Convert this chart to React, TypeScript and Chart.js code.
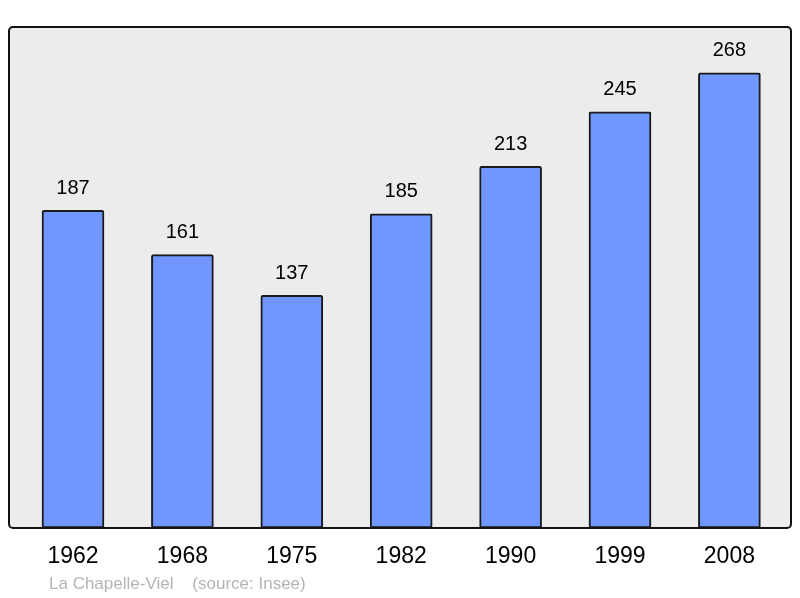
import { useEffect, useRef } from "react";
import { Chart, registerables, type Plugin } from "chart.js";

Chart.register(...registerables);

const years = ["1962", "1968", "1975", "1982", "1990", "1999", "2008"];
const population = [187, 161, 137, 185, 213, 245, 268];
const caption = "La Chapelle-Viel    (source: Insee)";

const FONT = "'Liberation Sans', Arial, sans-serif";
const FRAME_LEFT = 9;
const FRAME_RIGHT = 791;

// gray frame around the plot, a bit wider than the bar area
const framePlugin: Plugin<"bar"> = {
  id: "frame",
  beforeDatasetsDraw(chart) {
    const { ctx, chartArea } = chart;
    ctx.save();
    ctx.beginPath();
    ctx.roundRect(FRAME_LEFT, chartArea.top, FRAME_RIGHT - FRAME_LEFT, chartArea.bottom - chartArea.top, 4);
    ctx.fillStyle = "#ececec";
    ctx.fill();
    ctx.restore();
  },
  afterDatasetsDraw(chart) {
    const { ctx, chartArea } = chart;
    ctx.save();
    ctx.beginPath();
    ctx.roundRect(FRAME_LEFT, chartArea.top, FRAME_RIGHT - FRAME_LEFT, chartArea.bottom - chartArea.top, 4);
    ctx.lineWidth = 2;
    ctx.strokeStyle = "#111";
    ctx.stroke();

    const meta = chart.getDatasetMeta(0);
    ctx.fillStyle = "#000";
    ctx.textAlign = "center";
    ctx.textBaseline = "middle";
    meta.data.forEach((bar, i) => {
      ctx.font = `20px ${FONT}`;
      ctx.fillText(String(population[i]), bar.x, bar.y - 22);
      ctx.font = `23px ${FONT}`;
      ctx.fillText(years[i], bar.x, chartArea.bottom + 29);
    });

    ctx.textAlign = "left";
    ctx.fillStyle = "#b4b4b4";
    ctx.font = `17px ${FONT}`;
    ctx.fillText(caption, 49, chartArea.bottom + 56);
    ctx.restore();
  },
};

export default function App() {
  const canvasRef = useRef<HTMLCanvasElement>(null);

  useEffect(() => {
    if (!canvasRef.current) return;
    const chart = new Chart(canvasRef.current, {
      type: "bar",
      data: {
        labels: years,
        datasets: [
          {
            data: population,
            backgroundColor: "#7097ff",
            borderColor: "#1a1a1a",
            borderWidth: 2,
            borderRadius: 2,
            borderSkipped: false,
            barThickness: 62,
          },
        ],
      },
      options: {
        responsive: false,
        animation: false,
        layout: { padding: { left: 18.3, right: 15.9, top: 27, bottom: 70 } },
        plugins: {
          legend: { display: false },
          tooltip: { enabled: false },
        },
        scales: {
          x: { display: false },
          y: { display: false, min: 0, max: 295 },
        },
      },
      plugins: [framePlugin],
    });
    return () => chart.destroy();
  }, []);

  return (
    <div style={{ position: "fixed", left: 0, top: 0, width: 800, height: 598, background: "#fff" }}>
      <canvas ref={canvasRef} width={800} height={598} />
    </div>
  );
}
